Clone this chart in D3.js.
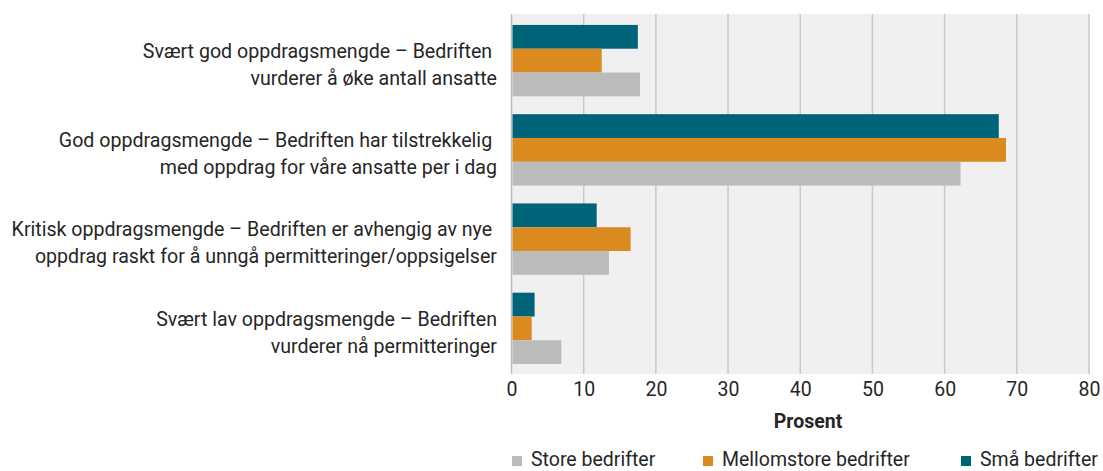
<!DOCTYPE html>
<html>
<head>
<meta charset="utf-8">
<script src="https://cdn.jsdelivr.net/npm/d3@7"></script>
<style>
  html, body { margin: 0; padding: 0; background: #ffffff; }
  svg { display: block; }
  text { font-family: Roboto, "Liberation Sans", sans-serif; fill: #262626; }
</style>
</head>
<body>
<svg id="chart" width="1103" height="471"></svg>
<script>
// ---- Data ----
const categories = [
  ["Svært god oppdragsmengde – Bedriften ", "vurderer å øke antall ansatte"],
  ["God oppdragsmengde – Bedriften har tilstrekkelig ", "med oppdrag for våre ansatte per i dag"],
  ["Kritisk oppdragsmengde – Bedriften er avhengig av nye ", "oppdrag raskt for å unngå permitteringer/oppsigelser"],
  ["Svært lav oppdragsmengde – Bedriften", "vurderer nå permitteringer"]
];
const seriesNames = ["Små bedrifter", "Mellomstore bedrifter", "Store bedrifter"];
const smaValues = [17.5, 67.5, 11.8, 3.2];
const mellomValues = [12.5, 68.5, 16.5, 2.8];
const storeValues = [17.8, 62.2, 13.5, 6.9];
const seriesColors = ["#006479", "#db8a20", "#bbbbbb"];
const xTicks = [0, 10, 20, 30, 40, 50, 60, 70, 80];
const legendOrder = ["Store bedrifter", "Mellomstore bedrifter", "Små bedrifter"];
const axisTitle = "Prosent";

const seriesValues = [smaValues, mellomValues, storeValues];

const svg = d3.select("#chart");

const x = d3.scaleLinear().domain([0, 80]).range([511.5, 1089]);
const catIdx = categories.map((d, i) => i);
const y = d3.scaleBand().domain(catIdx).range([16, 373]).paddingInner(0.2).paddingOuter(0.1);
const ySub = d3.scaleBand().domain(seriesNames).range([0, y.bandwidth()]);
const color = d3.scaleOrdinal().domain(seriesNames).range(seriesColors);

// plot background
svg.append("rect")
  .attr("x", x(0)).attr("y", 14)
  .attr("width", x(80) - x(0) + 1).attr("height", 360)
  .attr("fill", "#f0f0f0");

// gridlines
svg.append("g").selectAll("line").data(xTicks).join("line")
  .attr("x1", d => x(d)).attr("x2", d => x(d))
  .attr("y1", 14).attr("y2", 374)
  .attr("stroke", d => d === 0 ? "#bdbdbd" : "#c9c9c9")
  .attr("stroke-width", 1.5);

// bars
const groups = svg.append("g").selectAll("g").data(catIdx).join("g")
  .attr("transform", i => `translate(0,${y(i)})`);
groups.selectAll("rect")
  .data(i => seriesNames.map((s, k) => ({ s, v: seriesValues[k][i] })))
  .join("rect")
  .attr("x", x(0) + 1)
  .attr("y", d => ySub(d.s))
  .attr("width", d => x(d.v) - x(0) - 1)
  .attr("height", ySub.bandwidth())
  .attr("fill", d => color(d.s));

// x axis
const xAxis = d3.axisBottom(x).tickValues(xTicks).tickSize(0).tickPadding(0);
const gx = svg.append("g").attr("transform", "translate(0,382)").call(xAxis);
gx.select(".domain").remove();
gx.selectAll("text")
  .attr("dy", "0.71em")
  .style("font-size", "19.5px")
  .style("font-family", "Roboto, sans-serif")
  .attr("fill", "#262626");

svg.append("text")
  .attr("x", 808).attr("y", 428)
  .attr("text-anchor", "middle")
  .style("font-size", "19.5px").style("font-weight", "bold")
  .text(axisTitle);

// category labels
const lab = svg.append("g").selectAll("text").data(catIdx).join("text")
  .attr("text-anchor", "end")
  .style("font-size", "19.6px")
  .style("white-space", "pre");
lab.each(function(i) {
  const t = d3.select(this);
  const cy = y(i) + y.bandwidth() / 2;
  categories[i].forEach((line, k) => {
    t.append("tspan")
      .attr("x", 497)
      .attr("y", cy - 9.5 + k * 27)
      .attr("dy", "0.35em")
      .text(line);
  });
});

// legend
const legendX = [512, 703, 961];
const lg = svg.append("g").selectAll("g").data(legendOrder).join("g")
  .attr("transform", (d, i) => `translate(${legendX[i]},456)`);
lg.append("rect").attr("width", 10).attr("height", 10).attr("fill", d => color(d));
lg.append("text").attr("x", 19).attr("y", 10)
  .style("font-size", "19.5px").text(d => d);
</script>
</body>
</html>
